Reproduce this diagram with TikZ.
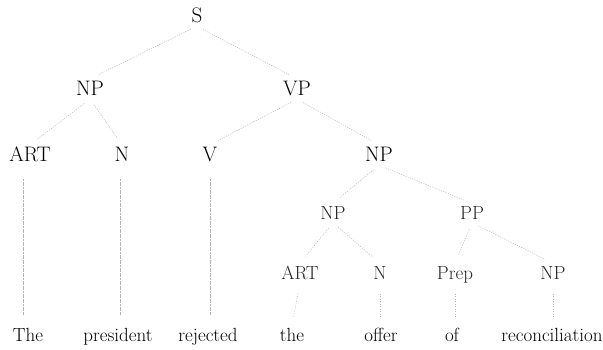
\documentclass[tikz,border=0pt]{standalone}
\begin{document}
\begin{tikzpicture}[x=1pt,y=-1pt,
  toplab/.style={font=\fontsize{21}{24}\selectfont, text height=14pt, text depth=0pt, inner sep=3pt},
  lowlab/.style={font=\fontsize{19}{22}\selectfont, text height=13pt, text depth=0pt, inner sep=3pt, text=black!85},
  word/.style={font=\fontsize{19}{22}\selectfont, text height=13pt, text depth=4pt, inner sep=3pt},
  edge/.style={draw=gray!55, line width=0.5pt, dash pattern=on 1.2pt off 1.2pt, shorten <=7pt, shorten >=9pt},
  leafa/.style={draw=gray!60, line width=0.6pt, dash pattern=on 2pt off 0.6pt, shorten <=14pt, shorten >=10pt},
  leafb/.style={draw=gray!55, line width=0.5pt, dash pattern=on 1pt off 1.5pt, shorten <=11pt, shorten >=8pt}]
\useasboundingbox (0,0) rectangle (603,350);
% nodes
\node[toplab] (S)    at (197,16)  {S};
\node[toplab] (NPa)  at (90,89)   {NP};
\node[toplab] (VP)   at (297,89)  {VP};
\node[toplab] (ARTa) at (30,155)  {ART};
\node[toplab] (Na)   at (122,155) {N};
\node[toplab] (V)    at (210,155) {V};
\node[toplab] (NPb)  at (379,155) {NP};
\node[lowlab] (NPc)  at (333,213) {NP};
\node[lowlab] (PP)   at (472,213) {PP};
\node[lowlab] (ARTb) at (300,273) {ART};
\node[lowlab] (Nb)   at (380,273) {N};
\node[lowlab] (Prep) at (455,273) {Prep};
\node[lowlab] (NPd)  at (553,273) {NP};
\node[word] (w1) at (28,337)  {The};
\node[word] (w2) at (118,337) {president};
\node[word] (w3) at (208,337) {rejected};
\node[word] (w4) at (292,337) {the};
\node[word] (w5) at (381,337) {offer};
\node[word] (w6) at (452,337) {of};
\node[word] (w7) at (552,337) {reconciliation};
% edges
\draw[edge] (S.south) -- (NPa.north);
\draw[edge] (S.south) -- (VP.north);
\draw[edge] (NPa.south) -- (ARTa.north);
\draw[edge] (NPa.south) -- (Na.north);
\draw[edge] (VP.south) -- (V.north);
\draw[edge] (VP.south) -- (NPb.north);
\draw[edge] (NPb.south) -- (NPc.north);
\draw[edge] (NPb.south) -- (PP.north);
\draw[edge] (NPc.south) -- (ARTb.north);
\draw[edge] (NPc.south) -- (Nb.north);
\draw[edge] (PP.south) -- (Prep.north);
\draw[edge] (PP.south) -- (NPd.north);
% leaves
\draw[leafa] ([xshift=-7pt]ARTa.south) -- ([xshift=-7pt]ARTa.south |- w1.north);
\draw[leafa] ([xshift=-2pt]Na.south) -- ([xshift=-2pt]Na.south |- w2.north);
\draw[leafa] (V.south) -- (V.south |- w3.north);
\draw[leafb] (ARTb.south) -- (w4.north);
\draw[leafb] (Nb.south) -- (Nb.south |- w5.north);
\draw[leafb] (Prep.south) -- (Prep.south |- w6.north);
\draw[leafb] (NPd.south) -- (NPd.south |- w7.north);
\end{tikzpicture}
\end{document}
